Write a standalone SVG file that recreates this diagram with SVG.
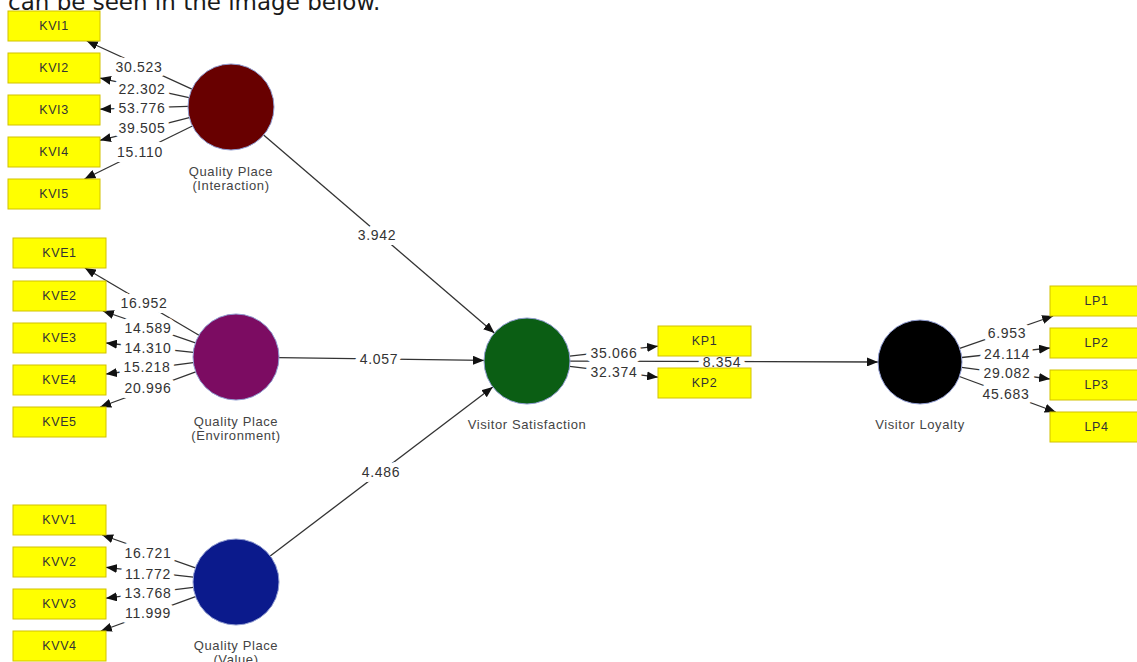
<svg xmlns="http://www.w3.org/2000/svg" width="1137" height="662" viewBox="0 0 1137 662">
<style>
.box{fill:#ffff00;stroke:#d2c200;stroke-width:1}
.bt{font-family:"Liberation Sans",Arial,sans-serif;font-size:12.5px;fill:#333;text-anchor:middle;letter-spacing:0.6px}
.lv{stroke:#8f9bd0;stroke-width:1}
.nl{font-family:"Liberation Sans",Arial,sans-serif;font-size:13px;fill:#444;text-anchor:middle;letter-spacing:0.6px}
.ln{stroke:#333;stroke-width:1.3;fill:none;marker-end:url(#ah)}
.pl{font-family:"Liberation Sans",Arial,sans-serif;font-size:14px;fill:#333;text-anchor:middle;letter-spacing:0.7px}
.halo text{fill:#fff;stroke:#fff;stroke-width:10px;stroke-linejoin:round}
.hd{font-family:"DejaVu Sans",Verdana,sans-serif;font-size:23px;fill:#1a1a1a}
</style>
<defs>
<marker id="ah" markerUnits="userSpaceOnUse" markerWidth="11" markerHeight="9" refX="11" refY="4.5" orient="auto">
<path d="M0,0 L11,4.5 L0,9 z" fill="#111"/>
</marker>
</defs>
<rect x="0" y="0" width="1137" height="662" fill="#fff"/>
<text class="hd" x="8" y="10">can be seen in the image below.</text>

<g id="connectors">
<line class="ln" x1="191.9" y1="89.1" x2="86.8" y2="41"/>
<line class="ln" x1="189" y1="97.7" x2="100" y2="78.1"/>
<line class="ln" x1="188" y1="106.3" x2="100" y2="109.2"/>
<line class="ln" x1="189.3" y1="117.6" x2="100" y2="140.3"/>
<line class="ln" x1="192.4" y1="126" x2="84.5" y2="179"/>
<line class="ln" x1="199" y1="335.2" x2="84.9" y2="268"/>
<line class="ln" x1="195.4" y1="342.9" x2="102.9" y2="311"/>
<line class="ln" x1="193.3" y1="352.4" x2="106" y2="343"/>
<line class="ln" x1="193.3" y1="362.6" x2="106" y2="374"/>
<line class="ln" x1="195.7" y1="371.9" x2="100.2" y2="407"/>
<line class="ln" x1="195.4" y1="567.8" x2="102.2" y2="535"/>
<line class="ln" x1="193.3" y1="577.1" x2="106" y2="567.3"/>
<line class="ln" x1="193.3" y1="587.3" x2="106" y2="598.2"/>
<line class="ln" x1="195.6" y1="596.7" x2="100.9" y2="631"/>
<line class="ln" x1="263.6" y1="135" x2="494.4" y2="333"/>
<line class="ln" x1="279" y1="357.6" x2="484" y2="360.4"/>
<line class="ln" x1="270.2" y1="556" x2="492.8" y2="387"/>
<line class="ln" x1="569.7" y1="356.2" x2="658" y2="346.2"/>
<line class="ln" x1="569.7" y1="366.3" x2="658" y2="377.2"/>
<line class="ln" x1="570" y1="361.1" x2="878" y2="362"/>
<line class="ln" x1="959.7" y1="348.3" x2="1053.1" y2="316"/>
<line class="ln" x1="961.8" y1="357.5" x2="1050" y2="348"/>
<line class="ln" x1="961.7" y1="367.4" x2="1050" y2="379"/>
<line class="ln" x1="959.4" y1="376.5" x2="1055.7" y2="412"/>
<g class="halo" aria-hidden="true">
<text class="pl" x="139" y="72">30.523</text>
<text class="pl" x="142" y="94">22.302</text>
<text class="pl" x="142" y="113">53.776</text>
<text class="pl" x="142" y="133">39.505</text>
<text class="pl" x="140" y="157">15.110</text>
<text class="pl" x="144" y="308">16.952</text>
<text class="pl" x="148" y="333">14.589</text>
<text class="pl" x="148" y="353">14.310</text>
<text class="pl" x="147" y="372">15.218</text>
<text class="pl" x="148" y="393">20.996</text>
<text class="pl" x="148" y="558">16.721</text>
<text class="pl" x="148" y="579">11.772</text>
<text class="pl" x="148" y="598">13.768</text>
<text class="pl" x="148" y="618">11.999</text>
<text class="pl" x="377" y="240">3.942</text>
<text class="pl" x="379" y="364">4.057</text>
<text class="pl" x="381" y="477">4.486</text>
<text class="pl" x="614" y="358">35.066</text>
<text class="pl" x="614" y="377">32.374</text>
<text class="pl" x="722" y="367">8.354</text>
<text class="pl" x="1007" y="338">6.953</text>
<text class="pl" x="1007" y="359">24.114</text>
<text class="pl" x="1007" y="378">29.082</text>
<text class="pl" x="1006" y="399">45.683</text>
</g>
<g class="labels">
<text class="pl" x="139" y="72">30.523</text>
<text class="pl" x="142" y="94">22.302</text>
<text class="pl" x="142" y="113">53.776</text>
<text class="pl" x="142" y="133">39.505</text>
<text class="pl" x="140" y="157">15.110</text>
<text class="pl" x="144" y="308">16.952</text>
<text class="pl" x="148" y="333">14.589</text>
<text class="pl" x="148" y="353">14.310</text>
<text class="pl" x="147" y="372">15.218</text>
<text class="pl" x="148" y="393">20.996</text>
<text class="pl" x="148" y="558">16.721</text>
<text class="pl" x="148" y="579">11.772</text>
<text class="pl" x="148" y="598">13.768</text>
<text class="pl" x="148" y="618">11.999</text>
<text class="pl" x="377" y="240">3.942</text>
<text class="pl" x="379" y="364">4.057</text>
<text class="pl" x="381" y="477">4.486</text>
<text class="pl" x="614" y="358">35.066</text>
<text class="pl" x="614" y="377">32.374</text>
<text class="pl" x="722" y="367">8.354</text>
<text class="pl" x="1007" y="338">6.953</text>
<text class="pl" x="1007" y="359">24.114</text>
<text class="pl" x="1007" y="378">29.082</text>
<text class="pl" x="1006" y="399">45.683</text>
</g>
</g>

<g id="KVI1"><rect class="box" x="8" y="11" width="92" height="30"/><text class="bt" x="54" y="30">KVI1</text></g>
<g id="KVI2"><rect class="box" x="8" y="53" width="92" height="30"/><text class="bt" x="54" y="72">KVI2</text></g>
<g id="KVI3"><rect class="box" x="8" y="95" width="92" height="30"/><text class="bt" x="54" y="114">KVI3</text></g>
<g id="KVI4"><rect class="box" x="8" y="137" width="92" height="30"/><text class="bt" x="54" y="156">KVI4</text></g>
<g id="KVI5"><rect class="box" x="8" y="179" width="92" height="30"/><text class="bt" x="54" y="198">KVI5</text></g>

<g id="KVE1"><rect class="box" x="13" y="238" width="93" height="30"/><text class="bt" x="59.5" y="257">KVE1</text></g>
<g id="KVE2"><rect class="box" x="13" y="281" width="93" height="30"/><text class="bt" x="59.5" y="300">KVE2</text></g>
<g id="KVE3"><rect class="box" x="13" y="323" width="93" height="30"/><text class="bt" x="59.5" y="342">KVE3</text></g>
<g id="KVE4"><rect class="box" x="13" y="365" width="93" height="30"/><text class="bt" x="59.5" y="384">KVE4</text></g>
<g id="KVE5"><rect class="box" x="13" y="407" width="93" height="30"/><text class="bt" x="59.5" y="426">KVE5</text></g>

<g id="KVV1"><rect class="box" x="13" y="505" width="93" height="30"/><text class="bt" x="59.5" y="524">KVV1</text></g>
<g id="KVV2"><rect class="box" x="13" y="547" width="93" height="30"/><text class="bt" x="59.5" y="566">KVV2</text></g>
<g id="KVV3"><rect class="box" x="13" y="589" width="93" height="30"/><text class="bt" x="59.5" y="608">KVV3</text></g>
<g id="KVV4"><rect class="box" x="13" y="631" width="93" height="30"/><text class="bt" x="59.5" y="650">KVV4</text></g>

<g id="KP1"><rect class="box" x="658" y="326" width="93" height="30"/><text class="bt" x="704.5" y="345">KP1</text></g>
<g id="KP2"><rect class="box" x="658" y="368" width="93" height="30"/><text class="bt" x="704.5" y="387">KP2</text></g>

<g id="LP1"><rect class="box" x="1050" y="286" width="93" height="30"/><text class="bt" x="1096.5" y="305">LP1</text></g>
<g id="LP2"><rect class="box" x="1050" y="328" width="93" height="30"/><text class="bt" x="1096.5" y="347">LP2</text></g>
<g id="LP3"><rect class="box" x="1050" y="370" width="93" height="30"/><text class="bt" x="1096.5" y="389">LP3</text></g>
<g id="LP4"><rect class="box" x="1050" y="412" width="93" height="30"/><text class="bt" x="1096.5" y="431">LP4</text></g>

<g id="QP_Interaction"><circle class="lv" cx="231" cy="107" r="43" fill="#680000"/><text class="nl" x="231" y="176">Quality Place</text><text class="nl" x="231" y="190">(Interaction)</text></g>
<g id="QP_Environment"><circle class="lv" cx="236" cy="357" r="43" fill="#7c0c62"/><text class="nl" x="236" y="426">Quality Place</text><text class="nl" x="236" y="440">(Environment)</text></g>
<g id="QP_Value"><circle class="lv" cx="236" cy="582" r="43" fill="#0b1a8c"/><text class="nl" x="236" y="650">Quality Place</text><text class="nl" x="236" y="664">(Value)</text></g>
<g id="Visitor_Satisfaction"><circle class="lv" cx="527" cy="361" r="43" fill="#0b5e14"/><text class="nl" x="527" y="429">Visitor Satisfaction</text></g>
<g id="Visitor_Loyalty"><circle class="lv" cx="920" cy="362" r="42" fill="#000"/><text class="nl" x="920" y="429">Visitor Loyalty</text></g>
</svg>
